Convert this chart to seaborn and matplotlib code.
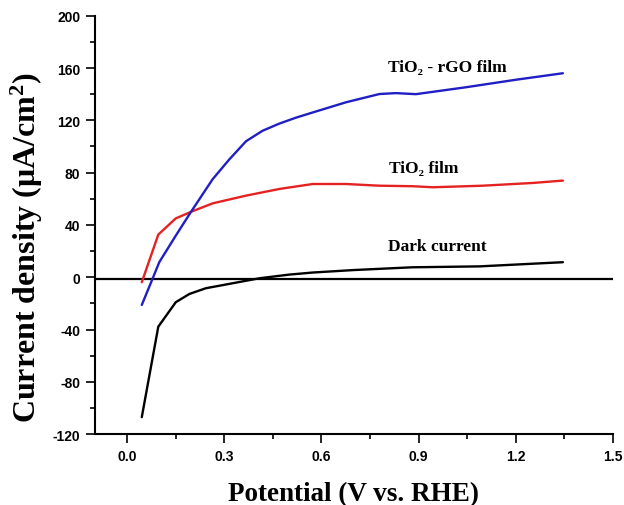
import numpy as np
import pandas as pd
import matplotlib
matplotlib.use("Agg")
import matplotlib.pyplot as plt
import seaborn as sns
from matplotlib.ticker import MultipleLocator

# ---- data ----
dark_v = [0.045, 0.096, 0.150, 0.192, 0.243, 0.315, 0.408, 0.500, 0.573, 0.700, 0.880, 1.088, 1.346]
dark_j = [-107.0, -37.8, -19.1, -12.8, -8.4, -5.1, -0.8, 2.0, 3.6, 5.5, 7.6, 8.3, 11.5]

tio2_v = [0.045, 0.096, 0.150, 0.202, 0.264, 0.367, 0.470, 0.573, 0.676, 0.779, 0.882, 0.944, 1.098, 1.253, 1.346]
tio2_j = [-3.8, 32.6, 45.0, 50.5, 56.5, 62.4, 67.5, 71.3, 71.3, 70.0, 69.6, 68.8, 70.0, 72.1, 73.9]

rgo_v = [0.045, 0.078, 0.099, 0.150, 0.197, 0.264, 0.315, 0.367, 0.418, 0.470, 0.521, 0.573, 0.676, 0.779, 0.830, 0.892, 1.047, 1.200, 1.346]
rgo_j = [-21.2, -1.3, 11.5, 31.8, 50.0, 75.0, 90.0, 104.0, 112.0, 117.5, 122.0, 126.0, 133.8, 140.1, 140.8, 140.0, 145.3, 151.0, 156.0]

series_names = ["Dark current", "TiO\u2082 film", "TiO\u2082 - rGO film"]
series_colors = ["#000000", "#e52222", "#1f1fc4"]
label_pos_v = [0.958, 0.915, 0.990]
label_pos_j = [24.0, 83.3, 160.5]

x_ticks = [0.0, 0.3, 0.6, 0.9, 1.2, 1.5]
y_ticks = [-120, -80, -40, 0, 40, 80, 120, 160, 200]
baseline_j = -1.5

frames = []
for name, v, j in zip(series_names, [dark_v, tio2_v, rgo_v], [dark_j, tio2_j, rgo_j]):
    frames.append(pd.DataFrame({"Potential": v, "Current": j, "Sample": name}))
df = pd.concat(frames, ignore_index=True)

sns.set_style("ticks")
plt.rcParams["text.color"] = "black"
plt.rcParams["axes.labelcolor"] = "black"
plt.rcParams["xtick.color"] = "black"
plt.rcParams["ytick.color"] = "black"
plt.rcParams["mathtext.fontset"] = "custom"
plt.rcParams["mathtext.rm"] = "Liberation Serif:bold"
plt.rcParams["mathtext.it"] = "Liberation Serif:bold"
plt.rcParams["mathtext.bf"] = "Liberation Serif:bold"

fig = plt.figure(figsize=(6.24, 5.06), dpi=100)
ax = fig.add_axes([0.152, 0.140, 0.830, 0.827])

ax.axhline(baseline_j, color="black", lw=1.6, zorder=1)

sns.lineplot(data=df, x="Potential", y="Current", hue="Sample",
             palette=dict(zip(series_names, series_colors)),
             hue_order=series_names, sort=False, estimator=None,
             linewidth=1.7, legend=False, ax=ax, zorder=3)

for name, xv, yv in zip(series_names, label_pos_v, label_pos_j):
    ax.text(xv, yv, name, ha="center", va="center", fontsize=12.5, color="black",
            fontweight="bold", family=["Liberation Serif", "DejaVu Serif"])

ax.set_xlim(-0.1, 1.5)
ax.set_ylim(-120, 200)
ax.set_xticks(x_ticks)
ax.set_yticks(y_ticks)
ax.xaxis.set_minor_locator(MultipleLocator(0.15))
ax.yaxis.set_minor_locator(MultipleLocator(20))
ax.set_xticklabels([f"{t:.1f}" for t in x_ticks])
ax.set_yticklabels([str(t) for t in y_ticks])

for lab in ax.get_xticklabels() + ax.get_yticklabels():
    lab.set_fontfamily("Liberation Sans")
    lab.set_fontweight("bold")
    lab.set_fontsize(10)
    lab.set_color("black")

ax.tick_params(which="major", direction="out", length=6.5, width=1.2, pad=4, color="black")
ax.tick_params(which="minor", direction="out", length=3.5, width=1.2, color="black")

sns.despine(ax=ax)
for s in ["left", "bottom"]:
    ax.spines[s].set_linewidth(1.5)
    ax.spines[s].set_color("black")

ax.set_xlabel("Potential (V vs. RHE)", fontsize=19.5, fontweight="bold",
              family="Liberation Serif", color="black")
ax.set_ylabel("Current density ($\\mu$A/cm$^{2}$)", fontsize=23, fontweight="bold",
              family="Liberation Serif", color="black")
ax.xaxis.set_label_coords(0.5, -0.112)
ax.yaxis.set_label_coords(-0.097, 0.449)

fig.savefig("out.png", dpi=100)
